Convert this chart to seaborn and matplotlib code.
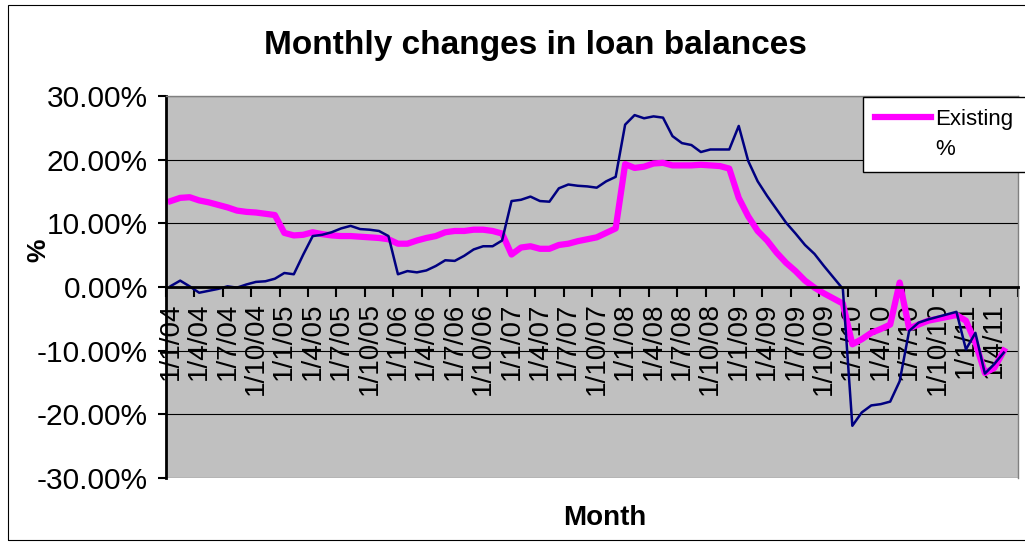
import pandas as pd
import seaborn as sns
import matplotlib.pyplot as plt
from matplotlib.lines import Line2D
from matplotlib.ticker import FixedLocator, FixedFormatter

# Monthly categories, Jan 2004 .. May 2011 (axis has room for Jun 2011)
months = pd.date_range("2004-01-01", "2011-05-01", freq="MS")
month_labels = [f"1/{m.month}/{m.strftime('%y')}" for m in months]

existing_pct = [
    13.5, 14.0, 14.1, 13.6, 13.3, 12.9, 12.5, 12.0, 11.8, 11.7, 11.5, 11.3,
    8.5, 8.1, 8.2, 8.6, 8.3, 8.1, 8.0, 8.0, 7.9, 7.8, 7.7, 7.5,
    6.8, 6.8, 7.3, 7.7, 8.0, 8.6, 8.8, 8.8, 9.0, 9.0, 8.8, 8.4,
    5.1, 6.2, 6.4, 6.0, 6.0, 6.6, 6.8, 7.2, 7.5, 7.8, 8.5, 9.2,
    19.3, 18.7, 18.9, 19.4, 19.5, 19.1, 19.1, 19.1, 19.2, 19.1, 19.0, 18.6,
    14.0, 11.1, 8.8, 7.3, 5.4, 3.8, 2.5, 1.0, -0.1, -1.0, -1.8, -2.6,
    -9.0, -8.2, -7.2, -6.6, -5.9, 0.7, -6.5, -5.9, -5.3, -5.0, -4.7, -4.4,
    -5.3, -8.7, -13.5, -12.7, -10.0,
]

new_pct = [
    0.15, 1.0, 0.1, -0.9, -0.6, -0.3, 0.1, -0.1, 0.4, 0.8, 0.9, 1.3,
    2.2, 2.0, 5.1, 8.0, 8.2, 8.6, 9.2, 9.6, 9.1, 9.0, 8.8, 8.0,
    2.0, 2.5, 2.3, 2.6, 3.3, 4.2, 4.1, 4.9, 5.9, 6.4, 6.4, 7.3,
    13.5, 13.7, 14.2, 13.5, 13.4, 15.5, 16.1, 15.9, 15.8, 15.6, 16.6, 17.3,
    25.5, 27.0, 26.5, 26.8, 26.6, 23.7, 22.6, 22.3, 21.2, 21.6, 21.6, 21.6,
    25.3, 19.8, 16.6, 14.3, 12.2, 10.1, 8.4, 6.6, 5.2, 3.3, 1.5, -0.3,
    -21.8, -19.7, -18.6, -18.4, -18.0, -14.8, -6.9, -5.6, -5.1, -4.7, -4.3, -3.9,
    -9.8, -7.2, -13.6, -12.1, -10.3,
]

y_ticks = [-30, -20, -10, 0, 10, 20, 30]
n_categories = 90

df = pd.DataFrame({"idx": range(len(months)), "month": month_labels,
                   "existing": existing_pct, "new": new_pct})

plt.rcParams["font.family"] = ["Liberation Sans", "DejaVu Sans"]

fig = plt.figure(figsize = (10.25, 5.43), dpi = 100)
ax = fig.add_axes([166 / 1025, 1 - 478 / 543, (1018 - 166) / 1025, (478 - 96) / 543])
ax.set_facecolor("#C0C0C0")

sns.lineplot(data = df, x = "idx", y = "existing", color = "#FF00FF", lw = 4.5, ax = ax, legend = False)
sns.lineplot(data = df, x = "idx", y = "new", color = "#000080", lw = 1.8, ax = ax, legend = False)

ax.set_xlim(-0.5, n_categories - 0.5)
ax.set_ylim(-30, 30)

# horizontal gridlines
ax.set_yticks(y_ticks)
ax.set_yticklabels([f"{v:.2f}%" for v in y_ticks])
ax.yaxis.grid(True, color = "black", lw = 0.8)
ax.set_axisbelow(True)

# category axis: tick marks between categories, labels on every 3rd month
tick_pos = [i - 0.5 for i in range(0, n_categories + 1, 3)]
label_pos = list(range(0, len(months), 3))
ax.xaxis.set_major_locator(FixedLocator(tick_pos))
ax.xaxis.set_minor_locator(FixedLocator(label_pos))
ax.xaxis.set_minor_formatter(FixedFormatter([month_labels[i] for i in label_pos]))
ax.tick_params(axis = "x", which = "major", length = 7, width = 1.5, labelbottom = False)
ax.tick_params(axis = "x", which = "minor", length = 0, pad = 11, labelsize = 20, labelrotation = 90)
ax.tick_params(axis = "y", length = 6, width = 1.5, labelsize = 21.5, pad = 7)

ax.spines["bottom"].set_position(("data", 0))
ax.spines["bottom"].set_linewidth(2)
ax.spines["left"].set_linewidth(2)
for s in ["top", "right"]:
    ax.spines[s].set_color("#808080")
    ax.spines[s].set_linewidth(1)

ax.set_xlabel("")
ax.set_ylabel("")

fig.text(0.522, 0.917, "Monthly changes in loan balances", ha = "center", va = "center",
         fontsize = 24, fontweight = "bold")
fig.text(0.590, 0.046, "Month", ha = "center", va = "center", fontsize = 20, fontweight = "bold")
fig.text(0.037, 0.54, "%", ha = "center", va = "center", fontsize = 19, fontweight = "bold", rotation = 90)

handles = [Line2D([], [], color = "#FF00FF", lw = 4.5), Line2D([], [], color = "none")]
leg = fig.legend(handles, ["Existing", "%"], loc = "upper left",
                 bbox_to_anchor = (863 / 1025, 1 - 97 / 543), fontsize = 16,
                 frameon = True, fancybox = False, borderaxespad = 0,
                 handlelength = 2.5, handletextpad = 0.2, labelspacing = 0.4,
                 borderpad = 0.55)
leg.get_frame().set_edgecolor("black")
leg.get_frame().set_linewidth(1)
leg.get_frame().set_alpha(1)

fig.add_artist(plt.Rectangle((8 / 1025, 3 / 543), 1.1, 535 / 543, transform = fig.transFigure,
                             fill = False, edgecolor = "black", lw = 0.8))

fig.savefig("out.png", dpi = 100)
